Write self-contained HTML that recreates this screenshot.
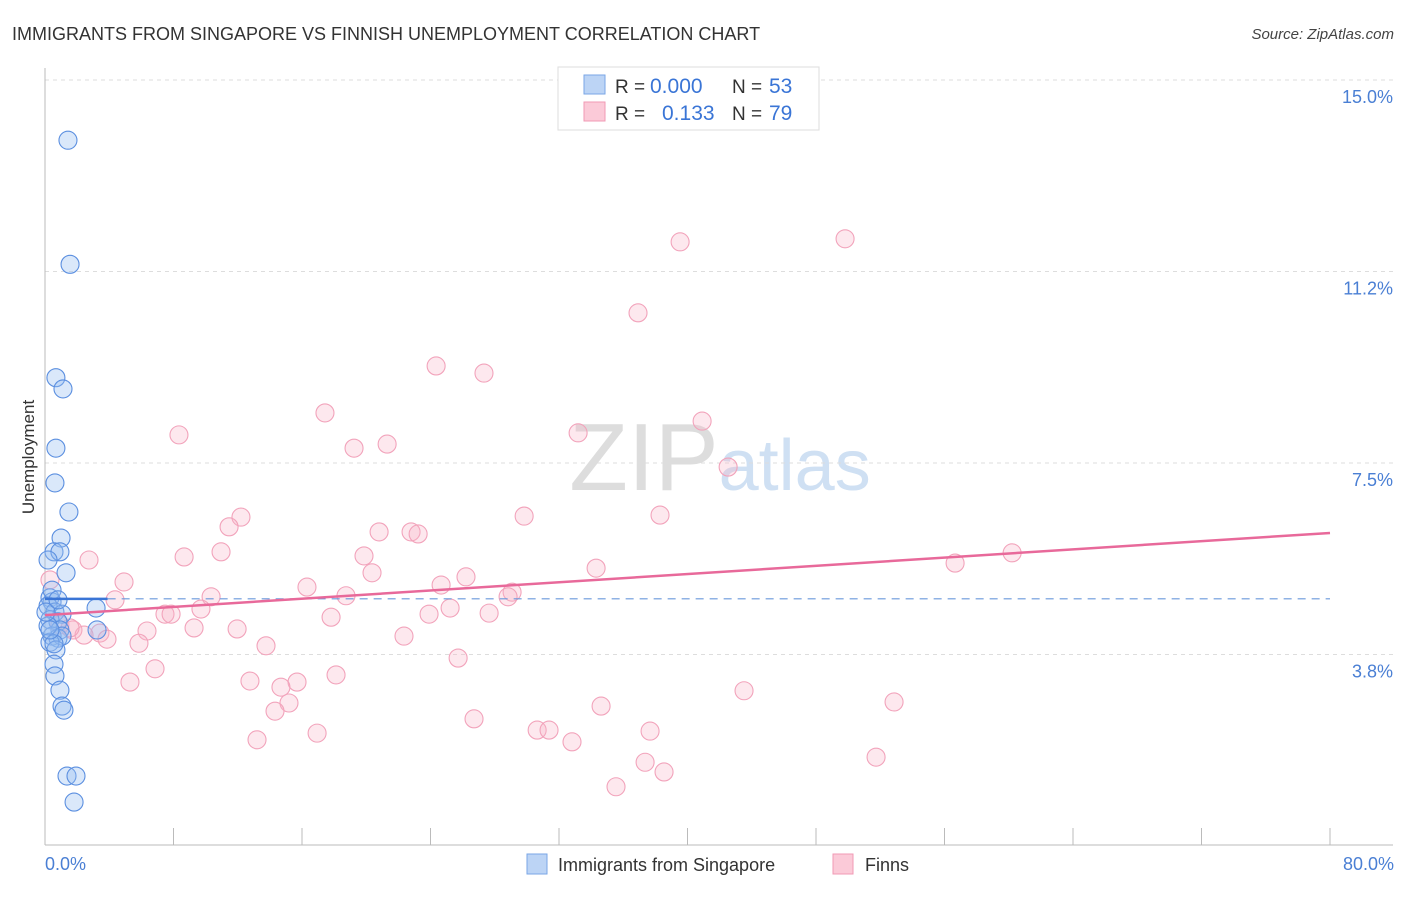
<!DOCTYPE html>
<html><head><meta charset="utf-8"><style>
body{margin:0;background:#fff;font-family:"Liberation Sans",sans-serif;}
svg text{font-family:"Liberation Sans",sans-serif;}
</style></head><body>
<svg id="chart" width="1406" height="892" xmlns="http://www.w3.org/2000/svg">
<text x="12" y="40" font-size="18" fill="#333">IMMIGRANTS FROM SINGAPORE VS FINNISH UNEMPLOYMENT CORRELATION CHART</text>
<text x="1394" y="39" font-size="15" fill="#444" text-anchor="end" font-style="italic">Source: ZipAtlas.com</text>
<text x="720" y="490" font-size="96" fill="#ddd" text-anchor="middle" font-family="Liberation Serif">ZIP<tspan fill="#cfe0f3" font-family="Liberation Sans" font-size="72">atlas</tspan></text>
<g id="grid"></g>
<g id="axes"></g>
<g id="pts"></g>
<g id="trends"></g>
<text transform="translate(34,457) rotate(-90)" font-size="17" fill="#333" text-anchor="middle">Unemployment</text>
<text x="45" y="870" font-size="18" fill="#4a7fd4">0.0%</text>
<text x="1394" y="870" font-size="18" fill="#4a7fd4" text-anchor="end">80.0%</text>
<g>
<rect x="558" y="67" width="261" height="63" fill="#fff" stroke="#ddd"/>
<rect x="584" y="75" width="21" height="19" fill="#bcd4f5" stroke="#7aa6e6"/>
<rect x="584" y="102" width="21" height="19" fill="#fbcad8" stroke="#f09ab4"/>
<text x="615" y="93" font-size="19" fill="#333">R =</text>
<text x="650" y="93" font-size="21" fill="#3a75d6">0.000</text>
<text x="732" y="93" font-size="19" fill="#333">N =</text>
<text x="769" y="93" font-size="21" fill="#3a75d6">53</text>
<text x="615" y="120" font-size="19" fill="#333">R =</text>
<text x="662" y="120" font-size="21" fill="#3a75d6">0.133</text>
<text x="732" y="120" font-size="19" fill="#333">N =</text>
<text x="769" y="120" font-size="21" fill="#3a75d6">79</text>
</g>
<g>
<rect x="527" y="854" width="20" height="20" fill="#bcd4f5" stroke="#7aa6e6"/>
<text x="558" y="871" font-size="18" fill="#333">Immigrants from Singapore</text></g>
<g>
<rect x="833" y="854" width="20" height="20" fill="#fbcad8" stroke="#f09ab4"/>
<text x="865" y="871" font-size="18" fill="#333">Finns</text></g>
</svg>
<script>
const yTicks=[3.75,7.5,11.25,15];
const yTickLabels=["3.8%","7.5%","11.2%","15.0%"];
const blueX=[1.43,1.56,0.68,1.12,0.68,0.62,1.49,1.0,0.56,0.93,0.19,1.31,0.31,0.44,0.19,0.62,1.06,3.18,0.31,0.81,0.93,3.24,0.44,0.81,1.06,0.31,0.68,0.56,0.62,0.93,1.06,1.18,1.37,1.93,1.81,0.19,0.06,0.44,0.56,0.81,0.31];
const blueY=[13.82,11.39,9.17,8.95,7.79,7.11,6.54,6.03,5.76,5.76,5.60,5.35,4.86,4.78,4.70,4.58,4.54,4.66,4.43,4.39,4.23,4.23,4.11,4.07,4.11,3.99,3.84,3.56,3.33,3.05,2.74,2.66,1.37,1.37,0.86,4.31,4.58,5.01,3.96,4.82,4.23];
const pinkX=[39.54,49.81,36.92,24.35,27.33,17.43,40.91,8.34,21.30,19.24,33.19,42.53,12.20,11.46,29.83,38.29,20.80,22.79,23.23,10.96,8.66,19.86,2.74,60.21,56.66,34.31,20.36,26.21,4.92,24.66,16.31,29.08,28.83,18.74,10.34,4.36,25.22,9.71,27.65,7.47,7.85,23.91,17.81,6.35,9.28,11.96,1.74,3.42,2.43,3.86,5.85,22.35,13.76,25.72,6.85,18.12,5.29,12.76,15.69,14.69,43.52,15.19,52.86,34.62,14.32,26.71,30.64,31.38,37.67,16.94,13.20,32.81,51.74,37.36,38.54,35.55,0.31,0.93,1.56];
const pinkY=[11.83,11.89,10.44,9.40,9.26,8.48,8.32,8.05,7.87,7.79,8.09,7.42,6.44,6.25,6.46,6.48,6.15,6.15,6.11,5.76,5.66,5.68,5.60,5.74,5.54,5.44,5.35,5.27,5.17,5.11,5.07,4.97,4.88,4.90,4.88,4.82,4.66,4.64,4.56,4.54,4.54,4.54,4.48,4.21,4.27,4.25,4.23,4.17,4.13,4.05,3.97,4.11,3.92,3.68,3.47,3.35,3.21,3.23,3.21,3.11,3.04,2.80,2.82,2.74,2.64,2.49,2.27,2.27,2.25,2.21,2.08,2.04,1.74,1.64,1.45,1.16,5.21,4.33,4.27];
const blueTrend=[4.84,4.84];
const pinkTrend=[4.52,6.13];
const xTicks=[0,8,16,24,32,40,48,56,64,72,80];
const NS="http://www.w3.org/2000/svg";
const X=v=>45+v*1285/80, Y=v=>846-v*51.07;
function mk(tag,attrs,parent){const e=document.createElementNS(NS,tag);for(const k in attrs)e.setAttribute(k,attrs[k]);document.getElementById(parent).appendChild(e);return e;}
yTicks.forEach((t,i)=>{
 const l=mk('line',{x1:45,x2:1393,y1:Y(t),y2:Y(t),stroke:'#ddd','stroke-dasharray':'4,4'},'grid');
 
 
 const tx=mk('text',{x:1393,y:Y(t)+23,'font-size':18,fill:'#4a7fd4','text-anchor':'end'},'grid');
 tx.textContent=yTickLabels[i];
 
 
});
const ax=mk('line',{x1:45,x2:45,y1:68,y2:845,stroke:'#bbb'},'axes');


const bx=mk('line',{x1:45,x2:1393,y1:845,y2:845,stroke:'#bbb'},'axes');


xTicks.forEach(t=>{
 const l=mk('line',{x1:X(t),x2:X(t),y1:828,y2:845,stroke:'#bbb'},'axes');
 
 
});
pinkX.forEach((x,i)=>{
 const c=mk('circle',{cx:X(x),cy:Y(pinkY[i]),r:9,fill:'rgba(248,180,200,0.3)',stroke:'#f2a3bb','stroke-width':1.1},'pts');
 
 
});
blueX.forEach((x,i)=>{
 const c=mk('circle',{cx:X(x),cy:Y(blueY[i]),r:9,fill:'rgba(150,190,240,0.35)',stroke:'#5b8fe0','stroke-width':1.1},'pts');
 
 
});
const bt=mk('line',{x1:X(0),x2:X(3.9),y1:Y(blueTrend[0]),y2:Y(blueTrend[0]),stroke:'#3a75d6','stroke-width':2.5},'trends');


const bd=mk('line',{x1:X(3.9),x2:X(80),y1:Y(blueTrend[0]),y2:Y(blueTrend[1]),stroke:'#6a98dc','stroke-width':1.2,'stroke-dasharray':'8,6'},'trends');


const pt=mk('line',{x1:X(0),x2:X(80),y1:Y(pinkTrend[0]),y2:Y(pinkTrend[1]),stroke:'#e8699a','stroke-width':2.5},'trends');


</script>
</body></html>
